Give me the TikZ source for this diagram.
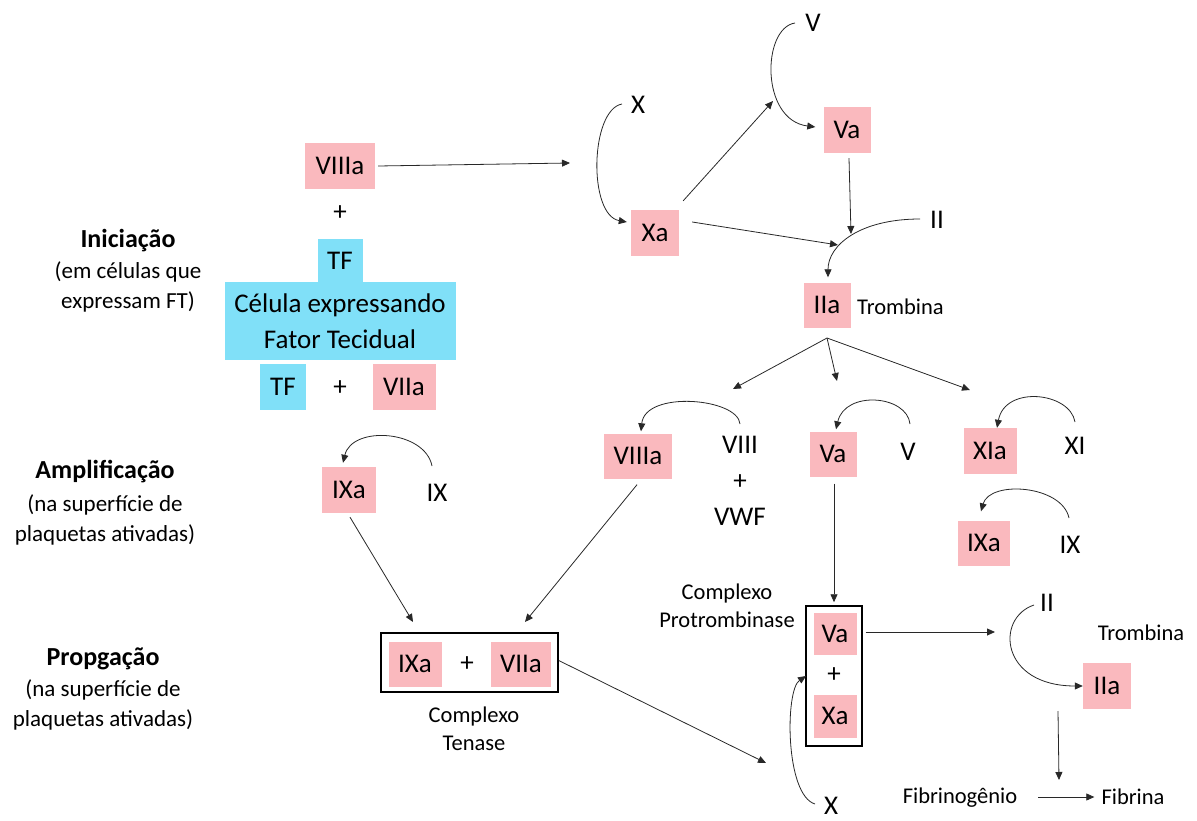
\documentclass[tikz,border=0pt]{standalone}
\usepackage{fontspec}
\setmainfont{Carlito}
\usetikzlibrary{arrows.meta}
\definecolor{rosa}{RGB}{250,185,190}
\definecolor{ciano}{RGB}{128,224,248}
\definecolor{linha}{RGB}{40,40,40}
\tikzset{
  big/.style={font=\fontsize{27}{36}\selectfont, inner sep=0pt, text=black},
  small/.style={font=\fontsize{22.5}{28}\selectfont, inner sep=0pt, align=center},
  head/.style={font=\fontsize{26}{30}\selectfont\bfseries, inner sep=0pt},
  sub/.style={font=\fontsize{23}{30}\selectfont, inner sep=0pt, align=center},
  pbox/.style={big, fill=rosa, minimum height=46pt},
  cbox/.style={big, fill=ciano, minimum height=46pt},
  arr/.style={draw=linha, line width=0.8pt, -{Triangle[length=8pt,width=7pt]}},
  frame/.style={draw=black, line width=1.5pt}
}
\begin{document}
\begin{tikzpicture}[x=1pt,y=-1pt]
\useasboundingbox (0,0) rectangle (1197,821);
% headings
\node[head] (h1) at (128,241) {Iniciação};
\node[sub] (s1) at (128,287) {(em células que\\expressam FT)};
\node[head] (h2) at (105,472) {Amplificação};
\node[sub] (s2) at (105,520) {(na superfície de\\plaquetas ativadas)};
\node[head] (h3) at (103,659) {Propgação};
\node[sub] (s3) at (103,705) {(na superfície de\\plaquetas ativadas)};

% initiation block
\node[pbox, minimum width=70pt] (viiia1) at (340,166) {VIIIa};
\node[big] (plus1) at (340,213) {+};
\node[cbox, minimum width=231pt, minimum height=78pt, align=center] (cell) at (340,321) {Célula expressando\\Fator Tecidual};
\node[cbox, minimum width=45pt, minimum height=43pt] (tf1) at (340,261) {TF};
\node[cbox, minimum width=46pt] (tf2) at (283,387) {TF};
\node[big] (plus2) at (340,388) {+};
\node[pbox, minimum width=63pt] (viia1) at (404,387) {VIIa};
\coordinate (c1) at (570,163);
\draw[arr] ([xshift=3pt]viiia1.east) -- (c1);

% top right
\node[big] (X1) at (638,105) {X};
\coordinate (x1s) at (622,104);
\node[pbox, minimum width=48pt] (xa1) at (655,233) {Xa};
\draw[arr] (x1s) .. controls (590,110) and (588,215) .. ([xshift=-4pt,yshift=11pt]xa1.west);
\node[big] (V1) at (813,23) {V};
\coordinate (v1s) at (795,23);
\node[pbox, minimum width=47pt] (va1) at (847,130) {Va};
\draw[arr] (v1s) .. controls (762,28) and (760,120) .. ([xshift=-8pt,yshift=3pt]va1.west);
\coordinate (vc) at (773,101);
\draw[arr] ([xshift=4pt,yshift=9pt]xa1.north east) -- (vc);
\coordinate (iin) at (851,234);
\draw[arr] ([xshift=2pt,yshift=-5pt]va1.south) -- (iin);
\coordinate (iiw) at (838,245);
\draw[arr] ([xshift=13pt,yshift=11pt]xa1.east) -- (iiw);
\node[big] (II1) at (937,220) {II};
\coordinate (ii1s) at (920,219);
\node[pbox, minimum width=47pt, minimum height=45pt] (iia1) at (827,305) {IIa};
\draw[arr] (ii1s) .. controls (860,219) and (828,245) .. ([xshift=1pt,yshift=5pt]iia1.north);
\node[small, anchor=west] (tromb1) at (857,307) {Trombina};
\coordinate (iib) at (827,338);
\coordinate (tl) at (733,389);
\coordinate (tm) at (837,381);
\coordinate (tr) at (970,390);
\draw[arr] (iib) -- (tl);
\draw[arr] (iib) -- (tm);
\draw[arr] (iib) -- (tr);

% middle row
\node[pbox, minimum width=68pt, minimum height=45pt] (viiia2) at (638,456) {VIIIa};
\node[big] (viii) at (740,445) {VIII};
\node[big] (plus3) at (740,482) {+};
\node[big] (vwf) at (740,517) {VWF};
\coordinate (viiis) at (740,424);
\draw[arr] (viiis) .. controls (738,398) and (645,390) .. ([xshift=3pt,yshift=2pt]viiia2.north);
\node[pbox, minimum width=47pt, minimum height=45pt] (va2) at (833,454) {Va};
\node[big] (V2) at (908,452) {V};
\coordinate (v2s) at (910,424);
\draw[arr] (v2s) .. controls (907,395) and (845,390) .. ([xshift=3pt,yshift=2pt]va2.north);
\node[pbox, minimum width=53pt] (xia) at (990,451) {XIa};
\node[big] (XI) at (1075,446) {XI};
\coordinate (xis) at (1075,422);
\node[pbox, minimum width=52pt, minimum height=45pt] (ixa2) at (984,543) {IXa};
\node[big] (IX2) at (1070,545) {IX};
\coordinate (ix2s) at (1069,518);
\draw[arr] (xis) .. controls (1070,392) and (1005,385) .. ([xshift=7pt,yshift=0pt]xia.north);
\draw[arr] (ix2s) .. controls (1062,485) and (990,480) .. ([xshift=-3pt,yshift=9pt]ixa2.north);

% amplification left
\node[pbox, minimum width=54pt] (ixa1) at (349,490) {IXa};
\node[big] (IX1) at (437,493) {IX};
\coordinate (ix1s) at (432,466);
\draw[arr] (ix1s) .. controls (425,430) and (352,425) .. ([xshift=-6pt,yshift=4pt]ixa1.north);

% tenase
\node[pbox, minimum width=53pt, minimum height=45pt] (ixa3) at (415,664) {IXa};
\node[big] (plus4) at (467,664) {+};
\node[pbox, minimum width=60pt, minimum height=45pt] (viia2) at (521,664) {VIIa};
\node[frame, minimum width=177pt, minimum height=59pt, inner sep=0pt] (tenase) at (469.5,662.5) {};
\node[small] (tenlbl) at (474,729) {Complexo\\Tenase};
\coordinate (t1) at (413,622);
\coordinate (t2) at (525,622);
\draw[arr] ([xshift=1pt,yshift=-4pt]ixa1.south) -- (t1);
\draw[arr] ([xshift=-1pt,yshift=-6pt]viiia2.south) -- (t2);
\coordinate (xend) at (766,763);
\draw[arr] ([yshift=2pt]tenase.east) -- (xend);

% protrombinase
\node[pbox, minimum width=43pt, minimum height=42pt] (va3) at (835,634) {Va};
\node[big] (plus5) at (834,675) {+};
\node[pbox, minimum width=43pt, minimum height=43pt] (xa3) at (835,716) {Xa};
\node[frame, minimum width=56pt, minimum height=140pt, inner sep=0pt] (prot) at (834,676) {};
\node[small] (protlbl) at (727,606) {Complexo\\Protrombinase};
\draw[arr] ([xshift=1pt,yshift=-7pt]va2.south) -- ([yshift=3pt]prot.north);
\node[big] (X2) at (831,806) {X};
\coordinate (x2s) at (815,804);
\coordinate (xin) at (806,676);
\draw[arr] (x2s) .. controls (785,795) and (785,690) .. (xin);
\coordinate (pr) at (995,632);
\draw[arr] ([xshift=9pt,yshift=2pt]va3.east) -- (pr);
\node[big] (II2) at (1047,603) {II};
\coordinate (ii2s) at (1034,605);
\node[small] (tromb2) at (1141,633) {Trombina};
\node[pbox, minimum width=48pt] (iia2) at (1107,686) {IIa};
\draw[arr] (ii2s) .. controls (995,618) and (1000,686) .. (iia2.west);
\node[small] (fgen) at (960,798) {Fibrinogênio};
\node[small] (fib) at (1133,797) {Fibrina};
\coordinate (fs) at (1058,711);
\coordinate (fd) at (1059,780);
\draw[arr] (fs) -- (fd);
\coordinate (fa) at (1038,797);
\draw[arr] (fa) -- ([xshift=-7pt]fib.west);
\end{tikzpicture}
\end{document}
